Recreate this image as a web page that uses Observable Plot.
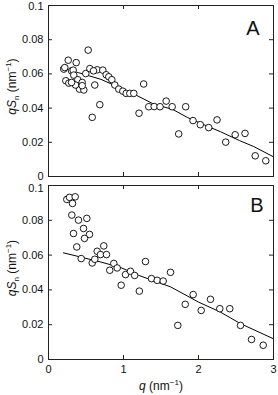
<!DOCTYPE html>
<html>
<head>
<meta charset="utf-8">
<script src="https://cdn.jsdelivr.net/npm/d3@7"></script>
<script src="https://cdn.jsdelivr.net/npm/@observablehq/plot@0.6"></script>
<style>
  html, body { margin: 0; padding: 0; background: #fff; }
  #chart svg { display: block; overflow: visible; }
</style>
</head>
<body>
<div id="chart"></div>
<script>
// ---- data ----
const xTicks = [0, 1, 2, 3];
const yTicks = [0, 0.02, 0.04, 0.06, 0.08, 0.1];

const panelAq = [0.204,0.217,0.263,0.231,0.271,0.307,0.329,0.337,0.369,0.391,0.413,0.449,0.471,0.529,0.497,0.551,0.617,0.583,0.649,0.684,0.724,0.769,0.804,0.844,0.884,0.937,0.991,1.036,1.084,1.137,1.207,1.269,1.337,1.409,1.487,1.569,1.649,1.736,1.829,1.927,2.024,2.136,2.247,2.363,2.489,2.62,2.756,2.897,0.6,0.36,0.307,0.449];
const panelAv = [0.0628,0.0637,0.0680,0.0560,0.0546,0.0618,0.0622,0.0593,0.0666,0.0566,0.0511,0.0550,0.0506,0.0739,0.0602,0.0631,0.0535,0.0346,0.0624,0.0420,0.0622,0.0595,0.0583,0.0566,0.0535,0.0511,0.0499,0.0486,0.0486,0.0486,0.0370,0.0541,0.0408,0.0409,0.0408,0.0441,0.0408,0.0249,0.0408,0.0327,0.0303,0.0286,0.0331,0.0201,0.0244,0.0252,0.0121,0.0092,0.0618,0.0535,0.0550,0.0531];
const fitAq = [0.16,0.4,0.7,0.96,1.14,1.4,1.657,1.849,2.103,2.293,2.547,2.737,3.0];
const fitAv = [0.0637,0.0607,0.0568,0.0517,0.0482,0.0424,0.0392,0.0346,0.0297,0.0262,0.0210,0.0175,0.0115];

const panelBq = [0.244,0.28,0.32,0.356,0.311,0.4,0.511,0.333,0.467,0.547,0.48,0.377,0.436,0.583,0.617,0.649,0.693,0.737,0.773,0.817,0.871,0.916,0.969,1.027,1.093,1.149,1.211,1.293,1.373,1.449,1.529,1.627,1.724,1.823,1.929,2.036,2.16,2.284,2.417,2.56,2.707,2.863];
const panelBv = [0.0920,0.0932,0.0897,0.0935,0.0830,0.0801,0.0811,0.0724,0.0753,0.0719,0.0696,0.0647,0.0580,0.0555,0.0576,0.0622,0.0603,0.0653,0.0603,0.0513,0.0552,0.0526,0.0427,0.0488,0.0507,0.0483,0.0393,0.0563,0.0465,0.0455,0.0451,0.0501,0.0196,0.0317,0.0373,0.0282,0.0346,0.0292,0.0292,0.0196,0.0115,0.0082];
const fitBq = [0.2,0.69,0.96,1.2,1.63,2.0,2.29,2.56,3.0];
const fitBv = [0.0613,0.0561,0.0529,0.0484,0.0417,0.0330,0.0273,0.0206,0.0119];

const panelLetters = ["A", "B"];

// ---- drawing ----
const W = 278, ML = 48, MR = 5;
const innerW = W - ML - MR;
const font = "Liberation Sans, Arial, sans-serif";

function panel(qs, vs, fq, fv, opts) {
  const pts = qs.map((q, i) => ({q, v: vs[i]}));
  const fit = fq.map((q, i) => ({q, v: fv[i]}));
  const innerH = opts.height - opts.mt - opts.mb;
  const topTick = yTicks[yTicks.length - 1];
  const marks = [
    Plot.line(fit, {x: "q", y: "v", stroke: "black", strokeWidth: 1}),
    Plot.dot(pts, {x: "q", y: "v", r: 3.3, stroke: "black", fill: "white", strokeWidth: 0.9}),
    Plot.frame({stroke: "#222", strokeWidth: 1}),
    Plot.tickY(yTicks, {y: d => d, insetRight: innerW - 4, stroke: "#222"}),
    Plot.tickY(yTicks, {y: d => d, insetLeft: innerW - 4, stroke: "#222"}),
    Plot.tickX(xTicks, {x: d => d, insetTop: innerH - 4, stroke: "#222"}),
    Plot.tickX(xTicks, {x: d => d, insetBottom: innerH - 4, stroke: "#222"}),
    Plot.axisY(yTicks.filter(d => d !== topTick), {tickSize: 0, tickPadding: 5, label: null, tickFormat: d => String(d), fill: "#111"}),
    Plot.axisY([topTick], {tickSize: 0, tickPadding: 5, label: null, tickFormat: d => String(d), fill: "#111", dy: opts.topDy})
  ];
  if (opts.xLabels) {
    marks.push(Plot.axisX(xTicks, {tickSize: 0, tickPadding: 6, label: null, tickFormat: d => String(d), fill: "#111"}));
  } else {
    marks.push(Plot.axisX(xTicks, {tickSize: 0, label: null, tickFormat: () => ""}));
  }
  const svg = Plot.plot({
    width: W, height: opts.height,
    marginLeft: ML, marginRight: MR, marginTop: opts.mt, marginBottom: opts.mb,
    x: {domain: [0, 3]},
    y: {domain: [0, 0.1]},
    style: {fontFamily: font, fontSize: "11px", background: "none", color: "#111", overflow: "visible"},
    marks
  });
  const s = d3.select(svg);
  // y-axis label: qS_n (nm^-1)
  const cy = opts.mt + innerH / 2 - 4;
  const t = s.append("text")
    .attr("transform", `translate(16,${cy}) rotate(-90)`)
    .attr("text-anchor", "middle")
    .attr("font-family", font).attr("font-size", 12).attr("fill", "#111");
  t.append("tspan").attr("font-style", "italic").text("qS");
  t.append("tspan").attr("font-size", 8).attr("dy", 3).text("n");
  t.append("tspan").attr("dy", -3).text(" (nm");
  t.append("tspan").attr("font-size", 8).attr("dy", -5).text("−1");
  t.append("tspan").attr("dy", 5).text(")");
  // panel letter
  s.append("text")
    .attr("x", opts.letterX).attr("y", opts.letterY)
    .attr("text-anchor", "middle")
    .attr("font-family", font).attr("font-size", 20).attr("fill", "#111")
    .text(opts.letter);
  if (opts.xLabels) {
    const xt = s.append("text")
      .attr("x", 161).attr("y", opts.height - 5)
      .attr("text-anchor", "middle")
      .attr("font-family", font).attr("font-size", 12).attr("fill", "#111");
    xt.append("tspan").attr("font-style", "italic").text("q");
    xt.append("tspan").text(" (nm");
    xt.append("tspan").attr("font-size", 8).attr("dy", -5).text("−1");
    xt.append("tspan").attr("dy", 5).text(")");
  }
  return svg;
}

const root = document.getElementById("chart");
root.appendChild(panel(panelAq, panelAv, fitAq, fitAv,
  {height: 181, mt: 5, mb: 5, xLabels: false, topDy: 1, letter: panelLetters[0], letterX: 253, letterY: 35}));
root.appendChild(panel(panelBq, panelBv, fitBq, fitBv,
  {height: 214, mt: 4, mb: 36, xLabels: true, topDy: 3, letter: panelLetters[1], letterX: 257, letterY: 31}));
</script>
</body>
</html>
